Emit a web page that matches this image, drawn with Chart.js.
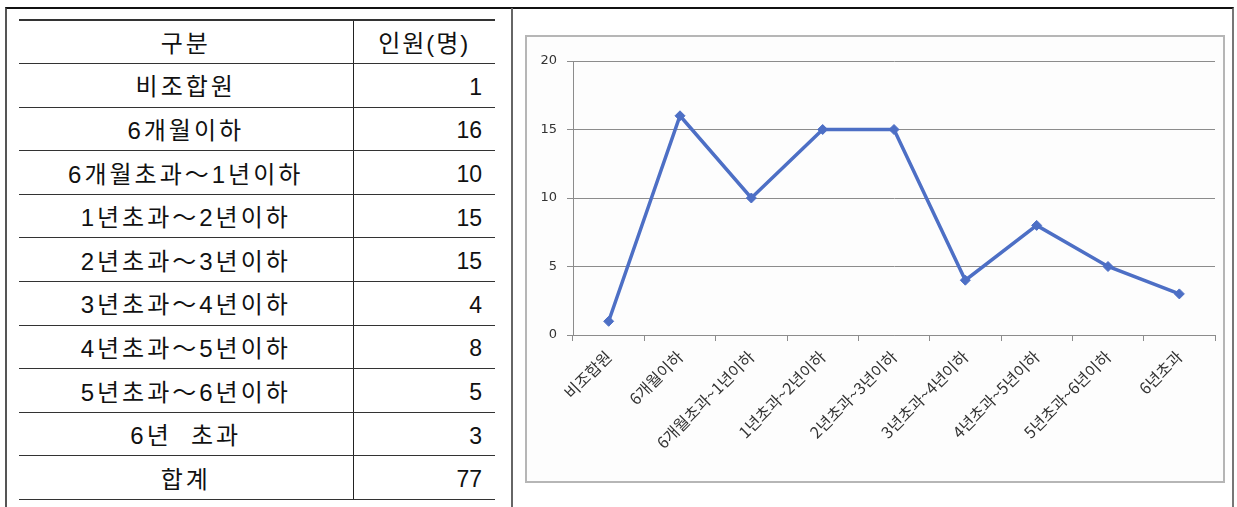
<!DOCTYPE html>
<html>
<head>
<meta charset="utf-8">
<script src="https://cdn.jsdelivr.net/npm/chart.js@4/dist/chart.umd.min.js"></script>
<style>
    html, body { margin: 0; padding: 0; background: #fff; }
    body { width: 1237px; height: 507px; position: relative; overflow: hidden; }
    .frame { position: absolute; left: 5px; top: 7px; width: 1229px; height: 520px; box-sizing: border-box;
             border-top: 2px solid #111; border-left: 2px solid #555; border-right: 2px solid #777; }
    .divider { position: absolute; left: 511px; top: 8px; width: 2px; height: 510px; background: #666; }
    table { position: absolute; left: 19px; top: 19px; width: 476px; border-collapse: collapse;
            font-family: "Liberation Sans", "Noto Sans CJK KR", sans-serif; font-size: 24px; color: #111; }
    td { height: 43.6px; padding: 0; padding-top: 4px; box-sizing: border-box; border-bottom: 1px solid #333;
         letter-spacing: 3px; white-space: pre; line-height: 1; }
    tr:first-child td { border-top: 2px solid #333; }
    td.name { text-align: center; width: 334px; border-right: 1px solid #222; }
    td.num { text-align: right; padding-right: 13px; letter-spacing: 0; font-size: 23px; }
    td.head { text-align: center; padding-right: 0; letter-spacing: 2px; font-size: 24px; }
    .chartBox { position: absolute; left: 525px; top: 35px; width: 700px; height: 448px; box-sizing: border-box;
                border: 2px solid #b6b6b6; background: #fdfdfd; }
    #lineChart { position: absolute; left: 0; top: 0; }
</style>
</head>
<body>
<div class="frame"></div>
<div class="divider"></div>
<table id="dataTable"></table>
<div class="chartBox"><canvas id="lineChart" width="696" height="444"></canvas></div>

<script>
// ===== DATA =====
const headers = ["구분", "인원(명)"];
const tableLabels = ["비조합원", "6개월이하", "6개월초과～1년이하", "1년초과～2년이하", "2년초과～3년이하",
    "3년초과～4년이하", "4년초과～5년이하", "5년초과～6년이하", "6년  초과"];
const chartLabels = ["비조합원", "6개월이하", "6개월초과~1년이하", "1년초과~2년이하", "2년초과~3년이하",
    "3년초과~4년이하", "4년초과~5년이하", "5년초과~6년이하", "6년초과"];
const members = [1, 16, 10, 15, 15, 4, 8, 5, 3];
const totalLabel = "합계";
const yTicks = [0, 5, 10, 15, 20];

// ===== TABLE =====
function buildTable() {
    const table = document.getElementById("dataTable");
    let html = `<tr><td class="name">${headers[0]}</td><td class="num head">${headers[1]}</td></tr>`;
    tableLabels.forEach((label, i) => {
        html += `<tr><td class="name">${label}</td><td class="num">${members[i]}</td></tr>`;
    });
    const total = members.reduce((a, b) => a + b, 0);
    html += `<tr><td class="name">${totalLabel}</td><td class="num">${total}</td></tr>`;
    table.innerHTML = html;
}

// ===== CHART =====
function drawChart() {
    const canvas = document.getElementById("lineChart");
    const lineColor = "#4d6fc5";
    const gridColor = "#8c8c8c";

    new Chart(canvas, {
        type: "line",
        data: {
            labels: chartLabels,
            datasets: [{
                data: members,
                borderColor: lineColor,
                backgroundColor: lineColor,
                borderWidth: 3.5,
                tension: 0,
                pointStyle: "rectRot",
                pointRadius: 5,
                pointBorderWidth: 1
            }]
        },
        options: {
            responsive: false,
            animation: false,
            devicePixelRatio: 1,
            layout: { padding: { left: 0, top: 24, right: 8, bottom: 0 } },
            plugins: { legend: { display: false }, tooltip: { enabled: false } },
            scales: {
                x: {
                    offset: true,
                    grid: { offset: true, drawOnChartArea: false, drawTicks: true, tickLength: 6, color: gridColor },
                    border: { color: gridColor, width: 1 },
                    ticks: {
                        autoSkip: false, maxRotation: 45, minRotation: 45, padding: 6,
                        color: "#333", font: { family: "Noto Sans CJK KR", size: 16 }
                    },
                    afterFit: scale => { scale.height = 146; }
                },
                y: {
                    min: yTicks[0],
                    max: yTicks[yTicks.length - 1],
                    afterBuildTicks: scale => { scale.ticks = yTicks.map(v => ({ value: v })); },
                    grid: { color: gridColor, tickLength: 6 },
                    border: { color: gridColor, width: 1 },
                    ticks: { padding: 10, color: "#333", font: { family: "DejaVu Sans", size: 13 } },
                    afterFit: scale => { scale.width = 46; }
                }
            }
        }
    });
}

buildTable();
drawChart();
</script>
</body>
</html>
